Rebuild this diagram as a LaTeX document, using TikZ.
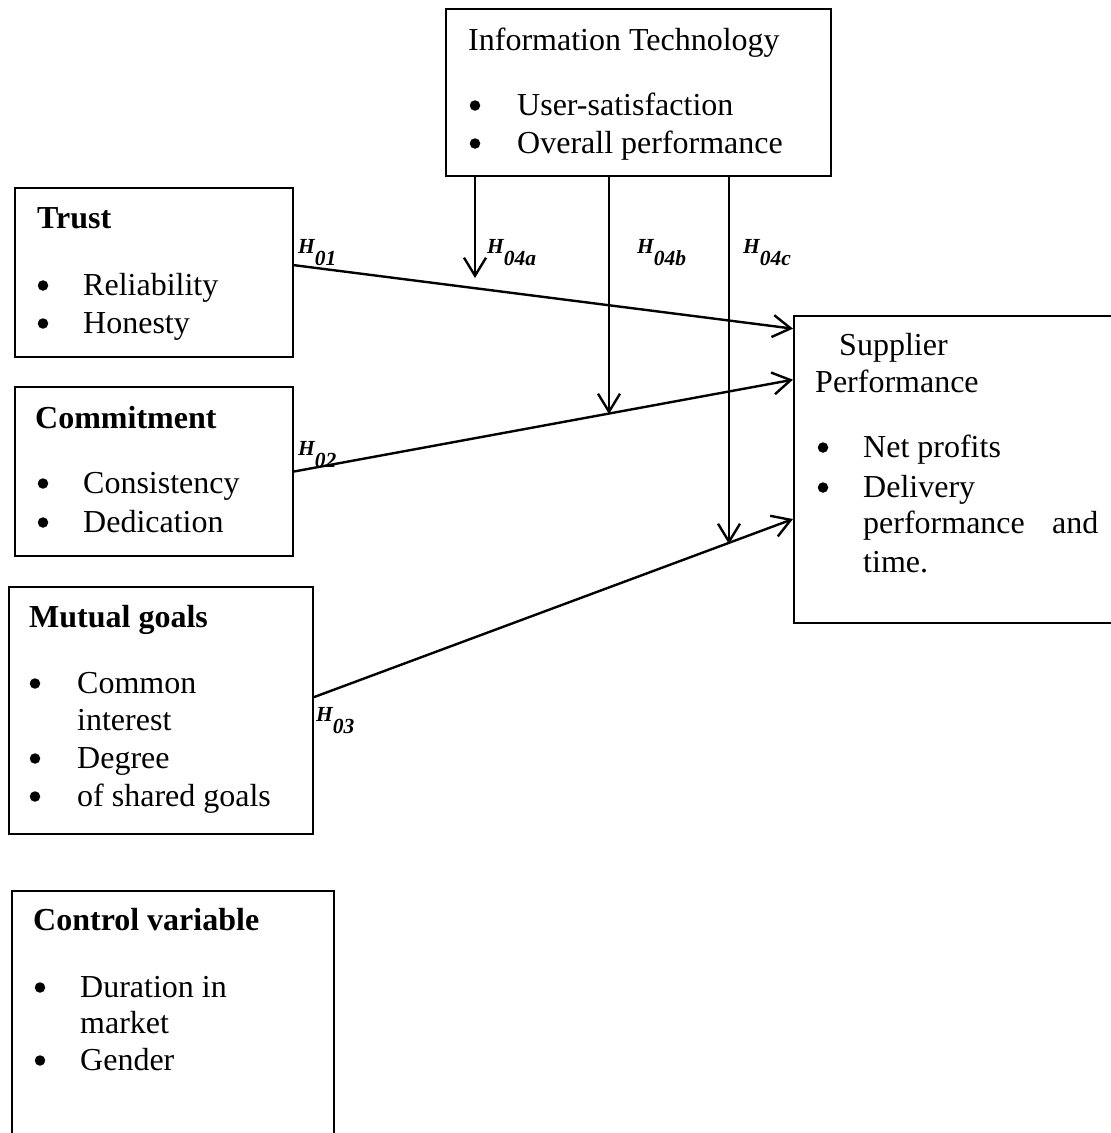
\documentclass[tikz,border=0pt]{standalone}
\usepackage{fontspec}
\setmainfont{Liberation Serif}
\usetikzlibrary{arrows.meta}
\begin{document}
\begin{tikzpicture}[x=1pt,y=-1pt,
  box/.style={draw, line width=2pt, inner sep=0pt},
  txt/.style={anchor=base west, inner sep=0pt, font=\fontsize{32}{38}\selectfont},
  hd/.style={anchor=base west, inner sep=0pt, font=\fontsize{32}{38}\selectfont\bfseries},
  bul/.style={circle, fill=black, inner sep=0pt, minimum size=10.5pt, yshift=9.5pt},
  hyp/.style={anchor=base west, inner sep=0pt, font=\fontsize{21.5}{24}\selectfont\bfseries\itshape},
  conn/.style={line width=2.4pt, -{Straight Barb[length=18pt,width=22pt]}}]
\fill[white] (0,0) rectangle (1111,1133);
\path[use as bounding box] (0,0) rectangle (1111,1133);
\clip (0,0) rectangle (1111,1133);

% boxes
\node[box, minimum width=385pt, minimum height=167pt] (it) at (638.5,92.5) {};
\node[box, minimum width=278pt, minimum height=169pt] (trust) at (154,272.5) {};
\node[box, minimum width=278pt, minimum height=169pt] (commit) at (154,471.5) {};
\node[box, minimum width=304pt, minimum height=247pt] (mutual) at (161,710.5) {};
\node[box, minimum width=322pt, minimum height=260pt] (control) at (173,1021) {};
\node[box, minimum width=322pt, minimum height=307pt] (supp) at (955,469.5) {};

% Information Technology
\node[txt] (itH) at (468,50) {Information Technology};
\node[bul] (itb1) at (475,115) {};
\node[txt] (it1) at (517,115) {User-satisfaction};
\node[bul] (itb2) at (475,153) {};
\node[txt] (it2) at (517,153) {Overall performance};

% Trust
\node[hd] (trH) at (37,228) {Trust};
\node[bul] (trb1) at (43,295) {};
\node[txt] (tr1) at (83,295) {Reliability};
\node[bul] (trb2) at (43,333) {};
\node[txt] (tr2) at (83,333) {Honesty};

% Commitment
\node[hd] (coH) at (35,428) {Commitment};
\node[bul] (cob1) at (43,493) {};
\node[txt] (co1) at (83,493) {Consistency};
\node[bul] (cob2) at (43,532) {};
\node[txt] (co2) at (83,532) {Dedication};

% Mutual goals
\node[hd] (muH) at (29,627) {Mutual goals};
\node[bul] (mub1) at (35,693) {};
\node[txt] (mu1) at (77,693) {Common};
\node[txt] (mu1b) at (77,730) {interest};
\node[bul] (mub2) at (35,768) {};
\node[txt] (mu2) at (77,768) {Degree};
\node[bul] (mub3) at (35,806) {};
\node[txt] (mu3) at (77,806) {of shared goals};

% Control variable
\node[hd] (ctH) at (33,930) {Control variable};
\node[bul] (ctb1) at (40,997) {};
\node[txt] (ct1) at (80,997) {Duration in};
\node[txt] (ct1b) at (80,1033) {market};
\node[bul] (ctb2) at (40,1070) {};
\node[txt] (ct2) at (80,1070) {Gender};

% Supplier performance
\node[txt] (suH1) at (839,355) {Supplier};
\node[txt] (suH2) at (815,392) {Performance};
\node[bul] (sub1) at (823,457) {};
\node[txt] (su1) at (863,457) {Net profits};
\node[bul] (sub2) at (823,497) {};
\node[txt] (su2) at (863,497) {Delivery};
\node[txt] (su2b) at (863,533) {performance};
\node[txt] (su2c) at (1052,533) {and};
\node[txt] (su2d) at (863,572) {time.};

% connectors
\draw[conn] (trust.3.9) -- (supp.139.3);
\draw[conn] (commit.-0.6) -- (supp.151.2);
\draw[conn] (mutual.5.1) -- (supp.197.7);

\coordinate (t4a) at (475,278);
\coordinate (t4b) at (609,414);
\coordinate (t4c) at (729,544);
\draw[conn] (it.south -| t4a) -- (t4a);
\draw[conn] (it.south -| t4b) -- (t4b);
\draw[conn] (it.south -| t4c) -- (t4c);

% hypothesis labels
\node[hyp] (h01) at (298,253) {H\raisebox{-12pt}{01}};
\node[hyp] (h04a) at (487,253) {H\raisebox{-12pt}{04a}};
\node[hyp] (h04b) at (637,253) {H\raisebox{-12pt}{04b}};
\node[hyp] (h04c) at (743,253) {H\raisebox{-12pt}{04c}};
\node[hyp] (h02) at (298,455) {H\raisebox{-12pt}{02}};
\node[hyp] (h03) at (316,721) {H\raisebox{-12pt}{03}};
\end{tikzpicture}
\end{document}
